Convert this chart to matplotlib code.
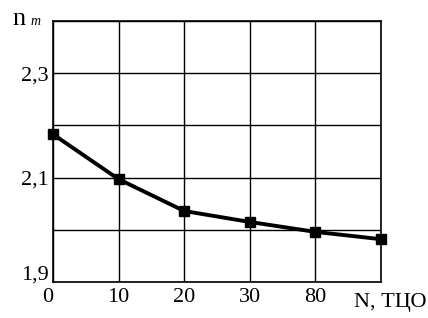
import matplotlib.pyplot as plt
import matplotlib.transforms as mtransforms

# данные с графика
x_labels = ["0", "10", "20", "30", "80", ""]
n_values = [2.183, 2.097, 2.036, 2.015, 1.996, 1.982]
y_ticks = [1.9, 2.0, 2.1, 2.2, 2.3, 2.4]
y_labels = ["1,9", "", "2,1", "", "2,3", ""]

plt.rcParams['font.family'] = ['Liberation Serif', 'DejaVu Serif']

fig = plt.figure(figsize=(4.28, 3.18), dpi=100)
ax = fig.add_axes([53 / 428, 1 - 282 / 318, 328 / 428, 261 / 318])

pos = list(range(len(n_values)))
ax.plot(pos, n_values, color='black', lw=2.8, marker='s', ms=6.5, clip_on=False, zorder=3)

ax.set_xlim(0, len(n_values) - 1)
ax.set_ylim(1.9, 2.4)
ax.set_xticks(pos)
ax.set_xticklabels(x_labels, fontsize=16)
ax.set_yticks(y_ticks)
ax.set_yticklabels(y_labels, fontsize=16)
ax.tick_params(axis='x', length=0, pad=4)
ax.tick_params(axis='y', length=0, pad=3)
ax.grid(True, color='black', lw=1.0)
for s in ax.spines.values():
    s.set_linewidth(1.2)

# сдвиги отдельных подписей
lbl = ax.get_yticklabels()[0]
lbl.set_transform(lbl.get_transform() + mtransforms.ScaledTranslation(0, 9 / 100, fig.dpi_scale_trans))
lbl0 = ax.get_xticklabels()[0]
lbl0.set_transform(lbl0.get_transform() + mtransforms.ScaledTranslation(-5 / 100, 0, fig.dpi_scale_trans))

fig.text(426 / 428, 1 - 302 / 318, "N, ТЦО", fontsize=16, ha='right', va='center')
fig.text(12 / 428, 1 - 25 / 318, "n", fontsize=19, ha='left', va='baseline')
fig.text(31 / 428, 1 - 25 / 318, "т", fontsize=10, ha='left', va='baseline', style='italic')

fig.savefig("out.png", dpi=100)
